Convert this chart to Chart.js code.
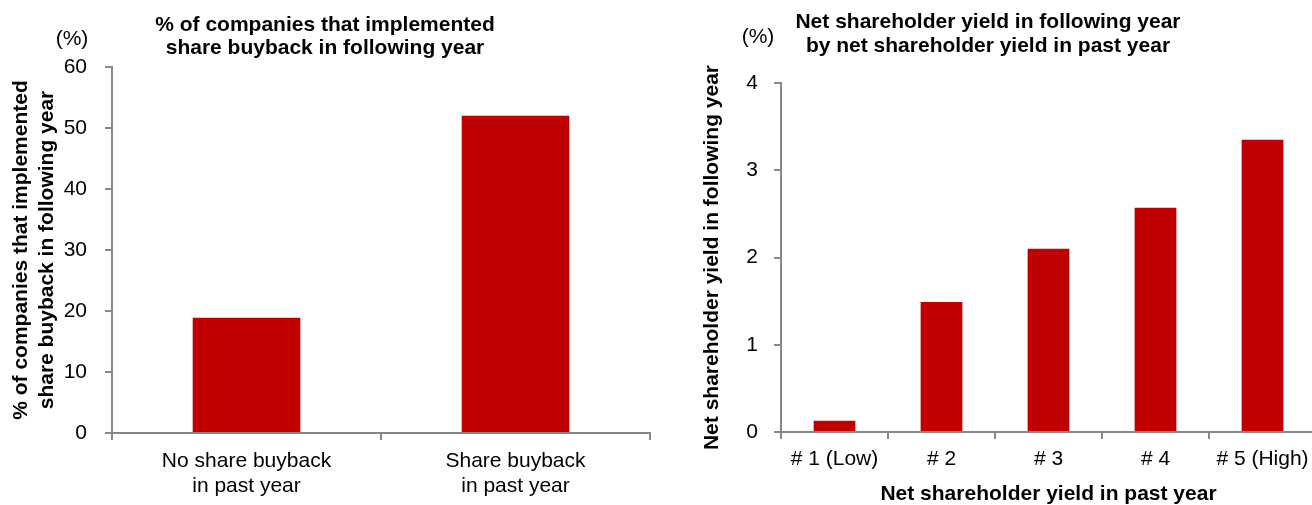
<!DOCTYPE html>
<html>
<head>
<meta charset="utf-8">
<script src="https://cdn.jsdelivr.net/npm/chart.js@4.4.1/dist/chart.umd.min.js"></script>
<style>
  html, body { margin: 0; padding: 0; background: #fff; overflow: hidden; width: 1312px; height: 505px; }
  canvas { position: absolute; top: 0; }
  #buybackChart { left: 0; }
  #yieldChart { left: 660px; }
</style>
</head>
<body>
<canvas id="buybackChart" width="654" height="505"></canvas>
<canvas id="yieldChart" width="716" height="505"></canvas>
<script>
// left chart data
const buybackLabels = [['No share buyback', 'in past year'], ['Share buyback', 'in past year']];
const buybackValues = [18.9, 52.0];
const buybackTicks = [0, 10, 20, 30, 40, 50, 60];

// right chart data
const yieldLabels = ['# 1 (Low)', '# 2', '# 3', '# 4', '# 5 (High)'];
const yieldValues = [0.13, 1.49, 2.10, 2.57, 3.35];
const yieldTicks = [0, 1, 2, 3, 4];

const AXIS_GRAY = '#878787';
const BAR_RED = '#C00000';

Chart.defaults.font.family = '"Liberation Sans", Arial, sans-serif';
Chart.defaults.font.size = 21;
Chart.defaults.color = '#000';

// "(%)" unit label above the y axis
const unitLabel = {
    id: 'unitLabel',
    afterDraw(chart, args, opts) {
        const ctx = chart.ctx;
        ctx.save();
        ctx.font = '21px "Liberation Sans", Arial, sans-serif';
        ctx.fillStyle = '#000';
        ctx.textAlign = 'center';
        ctx.textBaseline = 'middle';
        ctx.fillText(opts.text, opts.x, opts.y);
        ctx.restore();
    }
};

function renderBarChart(id, labels, values, tickValues, cfg) {
    const ctx = document.getElementById(id);
    return new Chart(ctx, {
        type: 'bar',
        data: {
            labels: labels,
            datasets: [{
                data: values,
                backgroundColor: BAR_RED,
                categoryPercentage: 1,
                barPercentage: cfg.barPct
            }]
        },
        options: {
            responsive: false,
            animation: false,
            devicePixelRatio: 1,
            layout: { padding: { left: 0, right: cfg.padRight, top: 0, bottom: 0 } },
            plugins: {
                legend: { display: false },
                tooltip: { enabled: false },
                title: {
                    display: true,
                    text: cfg.title,
                    font: { size: 21, weight: 'bold', lineHeight: cfg.titleLH / 21 },
                    color: '#000',
                    padding: cfg.titlePad
                },
                unitLabel: cfg.unit
            },
            scales: {
                x: {
                    grid: { offset: true, drawOnChartArea: false, drawTicks: true, tickLength: 7, color: AXIS_GRAY, lineWidth: 2 },
                    border: { display: true, color: AXIS_GRAY, width: 2 },
                    ticks: { padding: cfg.xTickPad, maxRotation: 0, font: { size: 21, lineHeight: 25 / 21 }, color: '#000' },
                    title: cfg.xTitle ? {
                        display: true,
                        text: cfg.xTitle,
                        font: { size: 21, weight: 'bold', lineHeight: 1 },
                        color: '#000',
                        padding: { top: 0, bottom: 0 }
                    } : { display: false },
                    afterFit: s => { s.height = cfg.xHeight; }
                },
                y: {
                    min: tickValues[0],
                    max: tickValues[tickValues.length - 1],
                    afterBuildTicks: s => { s.ticks = tickValues.map(v => ({ value: v })); },
                    grid: { drawOnChartArea: false, drawTicks: true, tickLength: 7, color: AXIS_GRAY, lineWidth: 2 },
                    border: { display: true, color: AXIS_GRAY, width: 2 },
                    ticks: { padding: cfg.yTickPad, font: { size: 21 }, color: '#000' },
                    title: {
                        display: true,
                        text: cfg.yTitle,
                        font: { size: 21, weight: 'bold', lineHeight: cfg.yTitleLH / 21 },
                        color: '#000',
                        padding: { top: cfg.yTitlePad, bottom: 0 }
                    },
                    afterFit: s => { s.width = cfg.yWidth; }
                }
            }
        },
        plugins: [unitLabel]
    });
}

renderBarChart('buybackChart', buybackLabels, buybackValues, buybackTicks, {
    title: ['% of companies that implemented', 'share buyback in following year'],
    titleLH: 23,
    titlePad: { top: 13.5, bottom: 7.5 },
    yTitle: ['% of companies that implemented', 'share buyback in following year'],
    yTitleLH: 26,
    yTitlePad: 8,
    xTitle: null,
    barPct: 0.4,
    padRight: 4,
    xHeight: 72,
    yWidth: 112,
    xTickPad: 9,
    yTickPad: 18,
    unit: { text: '(%)', x: 72, y: 39 }
});

renderBarChart('yieldChart', yieldLabels, yieldValues, yieldTicks, {
    title: ['Net shareholder yield in following year', 'by net shareholder yield in past year'],
    titleLH: 24,
    titlePad: { top: 10, bottom: 25 },
    yTitle: 'Net shareholder yield in following year',
    yTitleLH: 24,
    yTitlePad: 40,
    xTitle: 'Net shareholder yield in past year',
    barPct: 0.39,
    padRight: 60,
    xHeight: 73,
    yWidth: 121,
    xTickPad: 8,
    yTickPad: 16,
    unit: { text: '(%)', x: 98, y: 37 }
});
</script>
</body>
</html>
